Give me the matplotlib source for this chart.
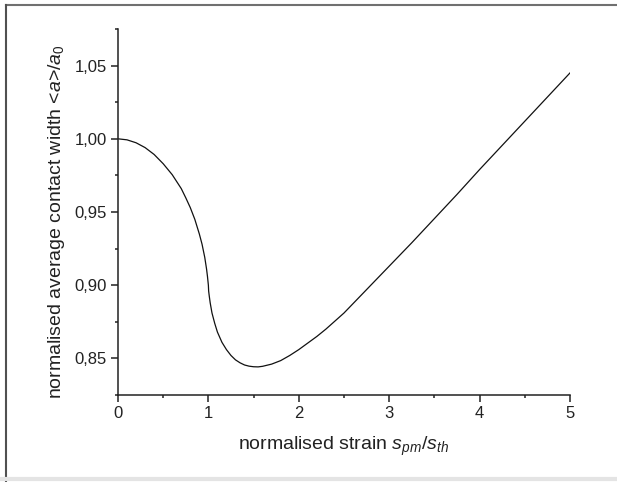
import numpy as np
import matplotlib
matplotlib.use('Agg')
import matplotlib.pyplot as plt
from matplotlib.lines import Line2D
from matplotlib.ticker import MultipleLocator, FuncFormatter

plt.rcParams['font.family'] = 'Liberation Sans'
plt.rcParams['mathtext.fontset'] = 'custom'
plt.rcParams['mathtext.rm'] = 'Liberation Sans'
plt.rcParams['mathtext.it'] = 'Liberation Sans:italic'

# values
strain = [0.0, 0.1, 0.2, 0.3, 0.4, 0.5, 0.6, 0.7, 0.75, 0.8, 0.85, 0.9, 0.93,
          0.96, 0.98, 0.99, 1.0, 1.003, 1.01, 1.02, 1.04, 1.07, 1.1, 1.15, 1.2,
          1.25, 1.3, 1.35, 1.4, 1.45, 1.5, 1.55, 1.6, 1.7, 1.8, 1.9, 2.0, 2.1,
          2.2, 2.3, 2.4, 2.5, 2.75, 3.0, 3.25, 3.5, 3.75, 4.0, 4.25, 4.5, 4.75, 5.0]
width = [1.000, 0.9993, 0.9973, 0.994, 0.9893, 0.983, 0.9755, 0.966, 0.9597,
         0.953, 0.945, 0.935, 0.928, 0.919, 0.911, 0.906, 0.900, 0.896, 0.8925,
         0.888, 0.881, 0.874, 0.868, 0.861, 0.856, 0.852, 0.849, 0.847, 0.8455,
         0.8447, 0.8443, 0.8442, 0.8446, 0.8461, 0.8485, 0.852, 0.856, 0.8605,
         0.865, 0.870, 0.8755, 0.881, 0.897, 0.913, 0.929, 0.9455, 0.962, 0.979,
         0.9955, 1.012, 1.0285, 1.045]

fig = plt.figure(figsize=(6.17, 4.82), dpi=100)
ax = fig.add_axes([0.1912, 0.1805, 0.7326, 0.7593])

ax.plot(strain, width, color='#111111', lw=0.9)

ax.set_xlim(0, 5)
ax.set_ylim(0.825, 1.075)
ax.xaxis.set_major_locator(MultipleLocator(1))
ax.xaxis.set_minor_locator(MultipleLocator(0.5))
ax.yaxis.set_major_locator(MultipleLocator(0.05))
ax.yaxis.set_minor_locator(MultipleLocator(0.025))
ax.yaxis.set_major_formatter(FuncFormatter(lambda v, p: ('%.2f' % v).replace('.', ',')))

for s in ['top', 'right']:
    ax.spines[s].set_visible(False)
for s in ['left', 'bottom']:
    ax.spines[s].set_linewidth(1.1)
    ax.spines[s].set_color('#222222')
ax.tick_params(which='major', direction='out', length=5, width=1.1, labelsize=12,
               colors='#222222', pad=3)
ax.tick_params(which='minor', direction='out', length=2.5, width=1.1, colors='#222222')

ax.set_xlabel(r'normalised strain $s_{pm}/s_{th}$', fontsize=14, labelpad=10, color='#222222')
ax.set_ylabel(r'normalised average contact width <$a$>/$a_0$', fontsize=14,
              color='#222222')
ax.yaxis.set_label_coords(-0.112, 0.474)

# frame around the figure
fig.add_artist(Line2D([6 / 617, 1], [1 - 5 / 482, 1 - 5 / 482], transform=fig.transFigure,
                      color='#707070', lw=1.5))
fig.add_artist(Line2D([6 / 617, 6 / 617], [0, 1 - 5 / 482], transform=fig.transFigure,
                      color='#505050', lw=1.5))
fig.add_artist(Line2D([0, 1], [3 / 482, 3 / 482], transform=fig.transFigure,
                      color='#e4e4e4', lw=3))

fig.savefig('out.png', dpi=100)
